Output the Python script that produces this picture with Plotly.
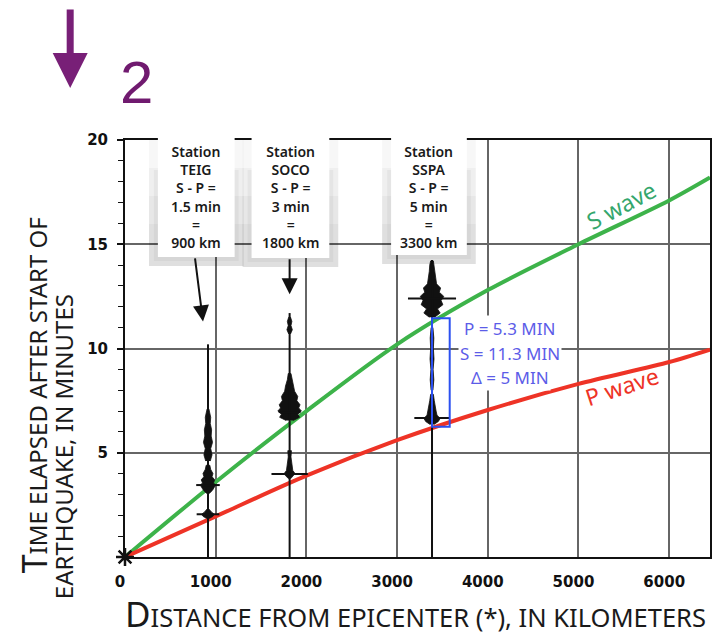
import plotly.graph_objects as go

# ---------------- data ----------------
DIST_KM = [0, 1000, 2000, 3000, 4000, 5000, 6000, 6450]
S_WAVE_MIN = [0, 3.6, 7.0, 10.2, 12.8, 15.0, 17.1, 18.2]
P_WAVE_MIN = [0, 1.95, 3.9, 5.6, 7.05, 8.3, 9.35, 9.95]

X_TICKS = [0, 1000, 2000, 3000, 4000, 5000, 6000]
Y_TICKS = [5, 10, 15, 20]

STATIONS = ["TEIG", "SOCO", "SSPA"]
STATION_KM = [915, 1815, 3385]
SP_TEXT = ["1.5 min", "3 min", "5 min"]
DIST_TEXT = ["900 km", "1800 km", "3300 km"]
TRACE_TOP_MIN = [10.2, 11.7, 14.25]
P_PICK_MIN = [2.05, 3.98, 6.67]
P_PICK_HALF_KM = [125, 200, 195]
S_PICK_MIN = [3.45, 6.95, 12.4]
S_PICK_HALF_KM = [130, 120, 265]

# seismogram wiggle envelopes: times (min) and half amplitudes (km)
BURST_T = [
    [[1.85, 1.95, 2.05, 2.15, 2.3],
     [3.05, 3.2, 3.35, 3.45, 3.55, 3.7, 3.85, 4.0, 4.2, 4.4],
     [4.6, 4.9, 5.2, 5.5, 5.8, 6.1, 6.4, 6.7, 7.1]],
    [[3.75, 3.9, 4.0, 4.15, 4.4, 4.8, 5.1],
     [6.55, 6.7, 6.85, 7.0, 7.15, 7.3, 7.5, 7.7, 7.95, 8.2, 8.5, 8.8],
     [10.7, 10.9, 11.1, 11.3, 11.5]],
    [[6.35, 6.5, 6.65, 6.8, 7.0, 7.2, 7.5, 7.8],
     [8.0, 8.5, 9.0, 9.5, 10.0, 10.5, 11.0],
     [11.5, 11.7, 11.9, 12.1, 12.3, 12.5, 12.7, 12.9, 13.1, 13.4, 13.7, 14.0, 14.2]],
]
BURST_A = [
    [[15, 55, 70, 40, 10],
     [15, 50, 70, 85, 60, 75, 45, 55, 30, 20],
     [25, 45, 30, 50, 35, 40, 25, 30, 10]],
    [[10, 45, 60, 35, 25, 15, 20],
     [40, 110, 90, 130, 100, 115, 80, 90, 55, 45, 25, 15],
     [10, 30, 15, 25, 10]],
    [[20, 70, 90, 55, 45, 35, 25, 15],
     [10, 20, 12, 22, 15, 20, 10],
     [30, 90, 60, 120, 100, 130, 80, 95, 50, 40, 30, 25, 15]],
]

# arrows from the TEIG and SOCO labels
ARROW_TAIL_KM = [770, 1815]
ARROW_TAIL_MIN = [14.4, 14.35]
ARROW_HEAD_KM = [860, 1815]
ARROW_HEAD_MIN = [11.3, 12.6]

# S-P bracket at SSPA
BRACKET_KM = [3385, 3580]
BRACKET_MIN = [6.25, 11.45]
BRACKET_TEXT = ["P = 5.3 MIN", "S = 11.3 MIN", "\u0394 = 5 MIN"]

# ---------------- layout helpers ----------------
W, H = 716, 636
L, R, T, B = 125, 712, 140, 557


def xp(px):
    return (px - L) / (R - L)


def yp(py):
    return (B - py) / (B - T)


GREEN = "#3db34a"
RED = "#ee3326"
PURPLE = "#781f77"
INK = "#111111"

fig = go.Figure()

fig.add_trace(go.Scatter(x=DIST_KM, y=S_WAVE_MIN, mode="lines",
                         line=dict(color=GREEN, width=4, shape="spline", smoothing=0.8),
                         hoverinfo="skip", showlegend=False))
fig.add_trace(go.Scatter(x=DIST_KM, y=P_WAVE_MIN, mode="lines",
                         line=dict(color=RED, width=4, shape="spline", smoothing=0.8),
                         hoverinfo="skip", showlegend=False))

# seismogram envelopes (filled)
bx, by = [], []
for i, km in enumerate(STATION_KM):
    for ts, amps in zip(BURST_T[i], BURST_A[i]):
        bx += [km + a for a in amps] + [km - a for a in amps[::-1]] + [None]
        by += list(ts) + list(ts[::-1]) + [None]
fig.add_trace(go.Scatter(x=bx, y=by, mode="lines", fill="toself",
                         fillcolor=INK, line=dict(color=INK, width=0.8),
                         hoverinfo="skip", showlegend=False))

# seismogram traces and pick bars
lx, ly = [], []
for i, km in enumerate(STATION_KM):
    lx += [km, km, None]
    ly += [0, TRACE_TOP_MIN[i], None]
    lx += [km - P_PICK_HALF_KM[i], km + P_PICK_HALF_KM[i], None]
    ly += [P_PICK_MIN[i], P_PICK_MIN[i], None]
    lx += [km - S_PICK_HALF_KM[i], km + S_PICK_HALF_KM[i], None]
    ly += [S_PICK_MIN[i], S_PICK_MIN[i], None]
fig.add_trace(go.Scatter(x=lx, y=ly, mode="lines",
                         line=dict(color=INK, width=2),
                         hoverinfo="skip", showlegend=False))

# epicenter
fig.add_trace(go.Scatter(x=[0], y=[0], mode="markers",
                         marker=dict(symbol="asterisk-open", size=15, color=INK,
                                     line=dict(color=INK, width=2.5)),
                         cliponaxis=False, hoverinfo="skip", showlegend=False))

shapes = []
# bracket
shapes.append(dict(type="rect", xref="x", yref="y",
                   x0=BRACKET_KM[0], x1=BRACKET_KM[1],
                   y0=BRACKET_MIN[0], y1=BRACKET_MIN[1],
                   line=dict(color="#2b50f0", width=2), layer="above"))

# station label boxes (pixel geometry) with soft shadows
BOX_PX = [(158, 235, 257), (252, 330, 258), (392, 468, 255)]
BOX_TOP = 128
for x0, x1, yb in BOX_PX:
    for k in range(4):
        shapes.append(dict(type="rect", xref="paper", yref="paper",
                           x0=xp(x0 - 9), x1=xp(x1 + 9), y0=yp(yb + 9), y1=yp(T + 28 * k),
                           fillcolor="rgba(0,0,0,0.03)", line=dict(width=0), layer="above"))
    shapes.append(dict(type="rect", xref="paper", yref="paper",
                       x0=xp(x0 - 4), x1=xp(x1 + 4), y0=yp(yb + 4), y1=yp(T + 30),
                       fillcolor="rgba(0,0,0,0.04)", line=dict(width=0), layer="above"))
for x0, x1, yb in BOX_PX:
    shapes.append(dict(type="rect", xref="paper", yref="paper",
                       x0=xp(x0), x1=xp(x1), y0=yp(yb), y1=yp(BOX_TOP),
                       fillcolor="white", line=dict(width=0), layer="above"))

annotations = []
for i, (x0, x1, yb) in enumerate(BOX_PX):
    txt = "Station<br>%s<br>S - P =<br>%s<br>=<br>%s" % (STATIONS[i], SP_TEXT[i], DIST_TEXT[i])
    annotations.append(dict(text=txt, xref="paper", yref="paper",
                            x=xp((x0 + x1) / 2), y=yp(197), xanchor="center", yanchor="middle",
                            showarrow=False, align="center",
                            font=dict(family="Noto Sans", size=14, color="#1a1a1a", weight=600)))

for i in range(len(ARROW_HEAD_KM)):
    annotations.append(dict(text="", x=ARROW_HEAD_KM[i], y=ARROW_HEAD_MIN[i], xref="x", yref="y",
                            ax=ARROW_TAIL_KM[i], ay=ARROW_TAIL_MIN[i], axref="x", ayref="y",
                            showarrow=True, arrowhead=2, arrowsize=1.6, arrowwidth=2,
                            arrowcolor=INK, standoff=0))

# bracket text
for t, py in zip(BRACKET_TEXT, [328, 353, 377]):
    annotations.append(dict(text=t, xref="paper", yref="paper", x=xp(511), y=yp(py),
                            xanchor="center", yanchor="middle", showarrow=False,
                            bgcolor="white", borderpad=1,
                            font=dict(family="Noto Sans", size=17, color="#5c5ce8")))

# wave labels
annotations.append(dict(text="S wave", xref="paper", yref="paper", x=xp(623), y=yp(205),
                        xanchor="center", yanchor="middle",
                        showarrow=False, textangle=-28,
                        font=dict(family="Noto Sans", size=23, color="#34a66c")))
annotations.append(dict(text="P wave", xref="paper", yref="paper", x=xp(624), y=yp(386),
                        xanchor="center", yanchor="middle",
                        showarrow=False, textangle=-18,
                        font=dict(family="Noto Sans", size=23, color=RED)))

# axis titles
annotations.append(dict(text="<span style='font-size:35px'>D</span>ISTANCE FROM EPICENTER (*), IN KILOMETERS",
                        xref="paper", yref="paper", x=xp(416), y=yp(613),
                        xanchor="center", yanchor="middle", showarrow=False,
                        font=dict(family="Noto Sans", size=25.5, color="#1a1a1a")))
annotations.append(dict(text="<span style='font-size:34px'>T</span>IME ELAPSED AFTER START OF",
                        xref="paper", yref="paper", x=xp(34), y=yp(395),
                        xanchor="center", yanchor="middle", showarrow=False, textangle=-90,
                        font=dict(family="Noto Sans", size=24, color="#1a1a1a")))
annotations.append(dict(text="EARTHQUAKE, IN MINUTES",
                        xref="paper", yref="paper", x=xp(63), y=yp(447),
                        xanchor="center", yanchor="middle", showarrow=False, textangle=-90,
                        font=dict(family="Noto Sans", size=24, color="#1a1a1a")))

# purple arrow and "2"
annotations.append(dict(text="", xref="paper", yref="paper", x=xp(70), y=yp(88),
                        ax=0, ay=-80, showarrow=True, arrowhead=2, arrowsize=1,
                        arrowwidth=7, arrowcolor=PURPLE, standoff=0))
annotations.append(dict(text="2", xref="paper", yref="paper", x=xp(137), y=yp(82),
                        xanchor="center", yanchor="middle", showarrow=False,
                        font=dict(family="Liberation Sans", size=60, color="#701a6f")))

fig.update_layout(
    width=W, height=H,
    margin=dict(l=L, r=W - R, t=T, b=H - B),
    paper_bgcolor="white", plot_bgcolor="white",
    shapes=shapes, annotations=annotations,
    xaxis=dict(range=[0, 6450], tickvals=X_TICKS, ticktext=[str(v) for v in X_TICKS],
               showgrid=True, gridcolor="#666666", gridwidth=1.5,
               showline=True, linecolor=INK, linewidth=2, mirror=True,
               ticks="", zeroline=False, ticklabelstandoff=10, ticklabelshift=-5,
               tickfont=dict(family="DejaVu Sans", size=15, color=INK, weight="bold")),
    yaxis=dict(range=[0, 20], tickvals=Y_TICKS,
               showgrid=True, gridcolor="#666666", gridwidth=1.5,
               showline=True, linecolor=INK, linewidth=2, mirror=True,
               ticks="outside", ticklen=6, tickwidth=1.5, tickcolor=INK,
               minor=dict(dtick=1, ticks="outside", ticklen=5, tickwidth=1.2,
                          tickcolor=INK, showgrid=False),
               zeroline=False, ticklabelstandoff=6,
               tickfont=dict(family="DejaVu Sans", size=15, color=INK, weight="bold")),
)

fig.write_html("out.html", config={"displayModeBar": False},
               post_script="document.body.style.margin='0';document.body.style.padding='0';")
